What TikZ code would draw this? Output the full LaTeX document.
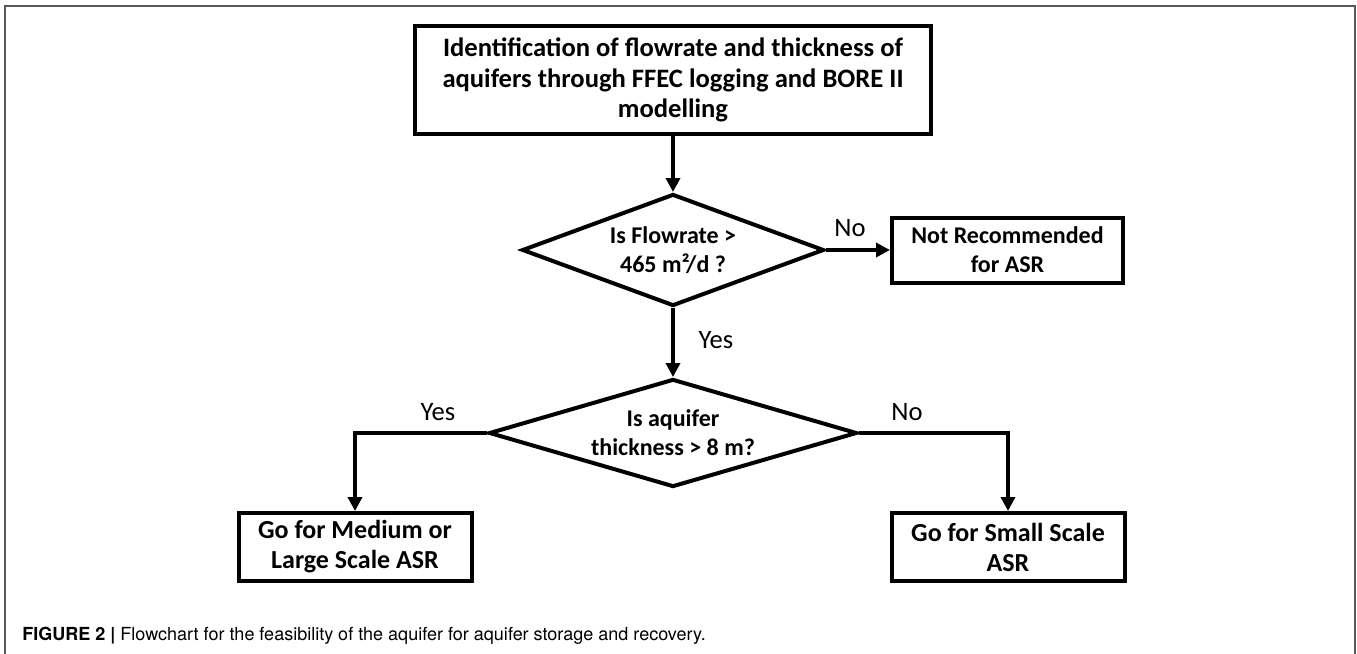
\documentclass[tikz,border=0pt]{standalone}
\usepackage{fontspec}
\setmainfont{Carlito}
\newfontfamily\capfont{TeX Gyre Heros}
\usetikzlibrary{positioning, shapes.geometric, arrows.meta}
\newcommand{\boxfont}{\bfseries\fontsize{13.3}{15.3}\selectfont}
\newcommand{\smallboxfont}{\bfseries\fontsize{12}{14.5}\selectfont}
\newcommand{\lblfont}{\fontsize{13.3}{15.3}\selectfont}
\tikzset{
    stepbox/.style={
        draw,
        line width=2pt,
        align=center,
        font=\boxfont,
        inner sep=0pt
    },
    decision/.style={
        diamond,
        draw,
        line width=2pt,
        align=center,
        font=\smallboxfont,
        inner sep=0pt,
        inner ysep=-3pt
    },
    ptr/.style={
        -{Triangle[length=7pt,width=7pt]},
        line width=2pt
    },
    branch/.style={font=\lblfont}
}

\begin{document}
\begin{tikzpicture}[x=0.5pt, y=-0.5pt]
    \useasboundingbox (0,0) rectangle (1357,654);
    % frame
    \draw[gray!70!black, line width=0.8pt] (5,660) -- (5,6) -- (1355,6) -- (1355,660);

    % steps
    \node[stepbox, minimum width=258pt, minimum height=54pt] (ident) at (673,80)
        {Identification of flowrate and thickness of\\aquifers through FFEC logging and BORE II\\modelling};
    \node[decision, aspect=2.66, minimum width=151pt, minimum height=56pt, below=28pt of ident] (flow)
        {Is Flowrate >\\465 m²/d ?};
    \node[stepbox, font=\smallboxfont, minimum width=115.5pt, minimum height=32.5pt, right=32pt of flow] (notrec)
        {Not Recommended\\for ASR};
    \node[decision, aspect=3.3, minimum width=184pt, minimum height=54pt, below=34.5pt of flow] (thick)
        {Is aquifer\\thickness > 8 m?};
    \node[stepbox, font=\bfseries\fontsize{13}{15}\selectfont, minimum width=116.5pt, minimum height=34pt] (large) at (355,547)
        {Go for Medium or\\Large Scale ASR};
    \node[stepbox, font=\bfseries\fontsize{13}{15}\selectfont, minimum width=116.5pt, minimum height=34pt] (small) at (1008,547)
        {Go for Small Scale\\ASR};

    % links
    \draw[ptr] (ident) -- (flow);
    \draw[ptr] (flow.east) -- (notrec.west);
    \draw[ptr] (flow.south) -- (thick.north);
    \draw[ptr] (thick.west) -| (large.north);
    \draw[ptr] (thick.east) -| (small.north);

    % labels
    \node[branch] (no1) at (850,228) {No};
    \node[branch] (yes1) at (716,340) {Yes};
    \node[branch] (yes2) at (438,412) {Yes};
    \node[branch] (no2) at (907,412) {No};

    % caption
    \node[anchor=west, inner sep=0pt, font=\capfont\fontsize{9}{11}\selectfont] (cap) at (22,636)
        {\textbf{FIGURE 2 |} Flowchart for the feasibility of the aquifer for aquifer storage and recovery.};
\end{tikzpicture}
\end{document}
